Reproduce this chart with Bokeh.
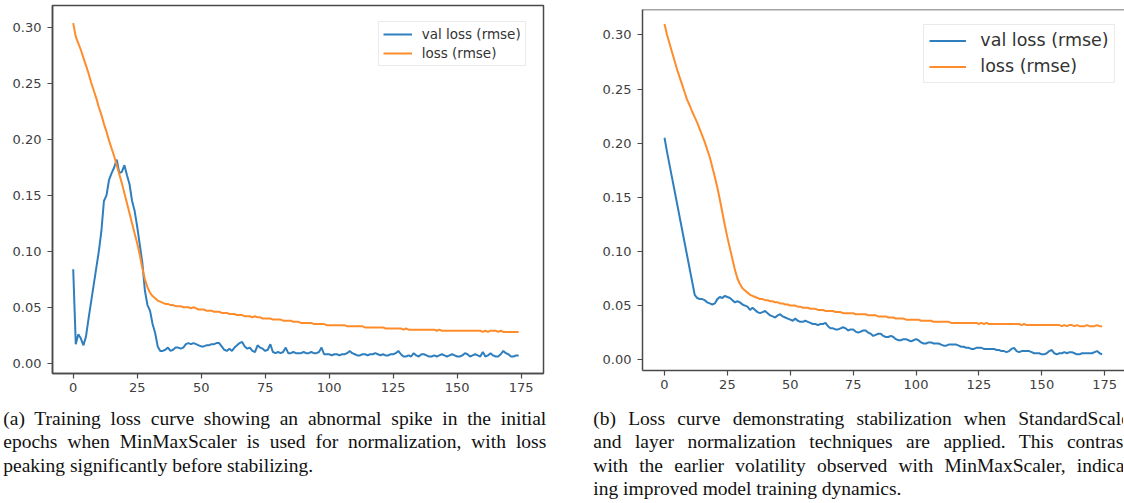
from bokeh.plotting import figure
from bokeh.models import Range1d, FixedTicker, PrintfTickFormatter, Legend, LegendItem, Div, Span
from bokeh.layouts import row, column
from bokeh.embed import file_html
from bokeh.resources import INLINE

epochs = list(range(175))
x_ticks = [0, 25, 50, 75, 100, 125, 150, 175]
y_ticks = [0.0, 0.05, 0.10, 0.15, 0.20, 0.25, 0.30]
series_labels = ["val loss (rmse)", "loss (rmse)"]

# (a) MinMaxScaler run
a_val_loss = [
    0.084, 0.017, 0.026, 0.022, 0.016, 0.024, 0.040, 0.055, 0.070, 0.085,
    0.100, 0.118, 0.145, 0.150, 0.164, 0.170, 0.175, 0.182, 0.170, 0.171,
    0.177, 0.168, 0.160, 0.145, 0.136, 0.122, 0.106, 0.090, 0.065, 0.052,
    0.047, 0.035, 0.027, 0.015, 0.011, 0.011, 0.012, 0.014, 0.011, 0.012,
    0.014, 0.014, 0.013, 0.014, 0.017, 0.018, 0.017, 0.018, 0.017, 0.016,
    0.015, 0.015, 0.016, 0.016, 0.017, 0.017, 0.018, 0.018, 0.015, 0.012,
    0.011, 0.013, 0.011, 0.014, 0.016, 0.018, 0.019, 0.015, 0.013, 0.014,
    0.011, 0.010, 0.016, 0.014, 0.013, 0.011, 0.012, 0.017, 0.010, 0.009,
    0.010, 0.009, 0.010, 0.014, 0.009, 0.009, 0.010, 0.009, 0.009, 0.009,
    0.010, 0.009, 0.009, 0.010, 0.009, 0.009, 0.010, 0.014, 0.008, 0.008,
    0.008, 0.007, 0.008, 0.008, 0.007, 0.008, 0.008, 0.009, 0.011, 0.009,
    0.008, 0.007, 0.007, 0.008, 0.008, 0.007, 0.008, 0.008, 0.009, 0.008,
    0.007, 0.008, 0.007, 0.007, 0.008, 0.008, 0.009, 0.011, 0.008, 0.006,
    0.006, 0.007, 0.006, 0.009, 0.007, 0.006, 0.008, 0.008, 0.007, 0.006,
    0.006, 0.007, 0.006, 0.007, 0.008, 0.007, 0.006, 0.007, 0.008, 0.007,
    0.006, 0.006, 0.007, 0.009, 0.008, 0.006, 0.007, 0.008, 0.007, 0.006,
    0.010, 0.006, 0.007, 0.009, 0.007, 0.006, 0.006, 0.008, 0.011, 0.009,
    0.008, 0.006, 0.006, 0.007, 0.007]

a_loss = [
    0.304, 0.292, 0.286, 0.280, 0.273, 0.266, 0.259, 0.251, 0.244, 0.237,
    0.229, 0.222, 0.214, 0.207, 0.199, 0.192, 0.185, 0.177, 0.169, 0.161,
    0.152, 0.143, 0.134, 0.125, 0.116, 0.107, 0.097, 0.085, 0.075, 0.068,
    0.063, 0.060, 0.058, 0.056, 0.055, 0.054, 0.053, 0.053, 0.052, 0.052,
    0.051, 0.051, 0.051, 0.050, 0.050, 0.050, 0.049, 0.050, 0.049, 0.048,
    0.048, 0.048, 0.047, 0.047, 0.047, 0.046, 0.046, 0.046, 0.045, 0.045,
    0.045, 0.044, 0.044, 0.044, 0.043, 0.043, 0.043, 0.042, 0.042, 0.042,
    0.041, 0.042, 0.041, 0.041, 0.040, 0.040, 0.040, 0.040, 0.039, 0.039,
    0.039, 0.039, 0.038, 0.038, 0.038, 0.038, 0.037, 0.037, 0.037, 0.036,
    0.036, 0.036, 0.036, 0.036, 0.035, 0.035, 0.035, 0.035, 0.035, 0.034,
    0.034, 0.034, 0.034, 0.034, 0.034, 0.034, 0.034, 0.033, 0.033, 0.033,
    0.033, 0.033, 0.033, 0.033, 0.032, 0.032, 0.032, 0.032, 0.032, 0.032,
    0.032, 0.032, 0.031, 0.031, 0.031, 0.031, 0.031, 0.031, 0.031, 0.030,
    0.031, 0.030, 0.030, 0.030, 0.030, 0.030, 0.030, 0.030, 0.030, 0.030,
    0.030, 0.030, 0.029, 0.030, 0.029, 0.029, 0.029, 0.029, 0.029, 0.029,
    0.029, 0.029, 0.029, 0.029, 0.029, 0.029, 0.029, 0.029, 0.029, 0.029,
    0.028, 0.029, 0.028, 0.029, 0.029, 0.029, 0.028, 0.029, 0.028, 0.028,
    0.028, 0.028, 0.028, 0.028, 0.028]

# (b) StandardScaler + layer normalization run
b_val_loss = [
    0.205, 0.192, 0.180, 0.168, 0.156, 0.144, 0.132, 0.120, 0.108, 0.096,
    0.084, 0.072, 0.060, 0.057, 0.056, 0.056, 0.055, 0.053, 0.052, 0.051,
    0.052, 0.056, 0.058, 0.057, 0.059, 0.058, 0.057, 0.055, 0.053, 0.054,
    0.053, 0.051, 0.050, 0.049, 0.046, 0.048, 0.046, 0.044, 0.043, 0.044,
    0.045, 0.043, 0.041, 0.040, 0.039, 0.041, 0.042, 0.040, 0.039, 0.038,
    0.037, 0.036, 0.038, 0.036, 0.035, 0.035, 0.036, 0.035, 0.034, 0.033,
    0.033, 0.032, 0.033, 0.033, 0.034, 0.031, 0.029, 0.029, 0.028, 0.028,
    0.029, 0.030, 0.029, 0.027, 0.028, 0.028, 0.026, 0.025, 0.026, 0.027,
    0.027, 0.025, 0.024, 0.022, 0.023, 0.024, 0.024, 0.022, 0.021, 0.021,
    0.022, 0.021, 0.019, 0.018, 0.018, 0.019, 0.019, 0.018, 0.017, 0.018,
    0.019, 0.018, 0.016, 0.015, 0.015, 0.016, 0.016, 0.015, 0.015, 0.015,
    0.014, 0.013, 0.013, 0.014, 0.014, 0.014, 0.014, 0.013, 0.012, 0.012,
    0.011, 0.011, 0.010, 0.010, 0.011, 0.011, 0.011, 0.010, 0.010, 0.010,
    0.010, 0.010, 0.009, 0.009, 0.008, 0.008, 0.007, 0.008, 0.010, 0.011,
    0.008, 0.007, 0.008, 0.008, 0.008, 0.008, 0.007, 0.006, 0.006, 0.006,
    0.005, 0.005, 0.006, 0.008, 0.009, 0.006, 0.005, 0.006, 0.006, 0.007,
    0.006, 0.007, 0.007, 0.006, 0.005, 0.005, 0.006, 0.006, 0.006, 0.006,
    0.006, 0.007, 0.008, 0.006, 0.005]

b_loss = [
    0.310, 0.300, 0.292, 0.284, 0.276, 0.268, 0.261, 0.254, 0.247, 0.240,
    0.235, 0.229, 0.224, 0.219, 0.213, 0.207, 0.201, 0.194, 0.187, 0.178,
    0.169, 0.159, 0.148, 0.136, 0.124, 0.113, 0.103, 0.093, 0.083, 0.075,
    0.070, 0.066, 0.064, 0.062, 0.060, 0.059, 0.058, 0.057, 0.056, 0.056,
    0.055, 0.055, 0.054, 0.054, 0.053, 0.053, 0.052, 0.052, 0.051, 0.051,
    0.050, 0.050, 0.050, 0.049, 0.049, 0.048, 0.048, 0.048, 0.047, 0.047,
    0.047, 0.046, 0.046, 0.046, 0.045, 0.045, 0.045, 0.045, 0.044, 0.044,
    0.044, 0.043, 0.043, 0.043, 0.043, 0.043, 0.042, 0.042, 0.042, 0.042,
    0.042, 0.041, 0.041, 0.041, 0.041, 0.040, 0.040, 0.040, 0.040, 0.039,
    0.039, 0.039, 0.038, 0.038, 0.038, 0.038, 0.037, 0.037, 0.037, 0.037,
    0.037, 0.037, 0.036, 0.036, 0.036, 0.036, 0.036, 0.035, 0.035, 0.035,
    0.035, 0.035, 0.035, 0.035, 0.034, 0.034, 0.034, 0.034, 0.034, 0.034,
    0.034, 0.034, 0.034, 0.034, 0.034, 0.033, 0.034, 0.033, 0.034, 0.033,
    0.033, 0.033, 0.033, 0.033, 0.033, 0.033, 0.033, 0.033, 0.033, 0.033,
    0.033, 0.033, 0.032, 0.033, 0.032, 0.032, 0.032, 0.032, 0.032, 0.032,
    0.032, 0.032, 0.032, 0.032, 0.032, 0.032, 0.032, 0.032, 0.031, 0.032,
    0.031, 0.032, 0.032, 0.031, 0.032, 0.031, 0.031, 0.031, 0.032, 0.031,
    0.031, 0.031, 0.032, 0.031, 0.031]

caption_a = [
    "(a) Training loss curve showing an abnormal spike in the initial",
    "epochs when MinMaxScaler is used for normalization, with loss",
    "peaking significantly before stabilizing.",
]
caption_b = [
    "(b) Loss curve demonstrating stabilization when StandardScaler",
    "and layer normalization techniques are applied. This contrasts",
    "with the earlier volatility observed with MinMaxScaler, indicat-",
    "ing improved model training dynamics.",
]

BLUE = "#2f7fbf"
ORANGE = "#ff8c2a"
FRAME = "#4a4a4a"


def make_fig(width, height, xr, yr, borders, val, loss, leg, outline):
    bl, br, bt, bb = borders
    p = figure(width=width, height=height, x_range=Range1d(*xr), y_range=Range1d(*yr),
               output_backend="svg", toolbar_location=None, margin=0,
               min_border_left=bl, min_border_right=br, min_border_top=bt, min_border_bottom=bb,
               background_fill_color="white", border_fill_color="white")
    p.xgrid.visible = False
    p.ygrid.visible = False
    r1 = p.line(epochs, val, line_color=BLUE, line_width=2)
    r2 = p.line(epochs, loss, line_color=ORANGE, line_width=2)
    for ax in (p.xaxis[0], p.yaxis[0]):
        ax.axis_line_color = FRAME
        ax.axis_line_width = 1.5
        ax.major_tick_line_color = FRAME
        ax.major_tick_line_width = 1.2
        ax.major_tick_out = 5
        ax.major_tick_in = 0
        ax.minor_tick_line_color = None
        ax.major_label_text_font = "DejaVu Sans"
        ax.major_label_text_font_size = "13px"
        ax.major_label_text_color = "#404040"
    p.xaxis.ticker = FixedTicker(ticks=x_ticks)
    p.yaxis.ticker = FixedTicker(ticks=y_ticks)
    p.yaxis.formatter = PrintfTickFormatter(format="%.2f")
    p.yaxis.major_label_standoff = 6
    p.xaxis.major_label_standoff = 4
    if outline:
        p.outline_line_color = FRAME
        p.outline_line_width = 1.5
    else:
        p.outline_line_color = None
        p.add_layout(Span(location=yr[1], dimension="width", line_color=FRAME, line_width=1.5))
    lx, ly, fs, gw, gh, sp, pad, so = leg
    legend = Legend(items=[LegendItem(label=series_labels[0], renderers=[r1]),
                           LegendItem(label=series_labels[1], renderers=[r2])],
                    location=(lx, ly), margin=0, padding=pad, spacing=sp,
                    glyph_width=gw, glyph_height=gh, label_height=gh, label_standoff=so,
                    label_text_font="DejaVu Sans", label_text_font_size=fs,
                    label_text_color="#333333",
                    border_line_color="#d6d6d6", border_line_width=1,
                    background_fill_color="white", background_fill_alpha=0.9)
    p.add_layout(legend)
    return p


# left panel: frame x 52..543, y 5..373 (page px)
fig_a = make_fig(590, 400, (-8.09, 183.7), (-0.0092, 0.3198), (52, 47, 5, 27),
                 a_val_loss, a_loss, (325.7, 307.3, "13.5px", 29, 16, 3, 4, 10), True)
# right panel: frame x 642..1124, y 9..370 (page px)
fig_b = make_fig(534, 400, (-8.75, 182.9), (-0.0099, 0.3234), (52, 0, 9, 30),
                 b_val_loss, b_loss, (281.3, 287.3, "17.5px", 37, 21, 5, 5, 14), False)


def caption_html(lines, shift, clip_w, inner_w):
    font = ("font-family:'Liberation Serif','Times New Roman',serif;font-size:19.5px;"
            "line-height:23.3px;color:#111111;")
    parts = []
    for k, ln in enumerate(lines):
        last = (k == len(lines) - 1)
        al = "left" if last else "justify"
        parts.append(f'<div style="white-space:nowrap;text-align:{al};text-align-last:{al};">{ln}</div>')
    return (f'<div style="position:relative;left:{shift}px;top:7px;width:{clip_w}px;overflow:hidden;{font}">'
            f'<div style="width:{inner_w}px;">' + "".join(parts) + "</div></div>")


div_a = Div(text=caption_html(caption_a, 3.3, 545, 543), width=590, height=95, margin=0)
div_b = Div(text=caption_html(caption_b, 3.3, 530, 543), width=534, height=95, margin=0)

layout = row(column(fig_a, div_a, spacing=0), column(fig_b, div_b, spacing=0), spacing=0)

open("out.html", "w").write(file_html(layout, INLINE))
